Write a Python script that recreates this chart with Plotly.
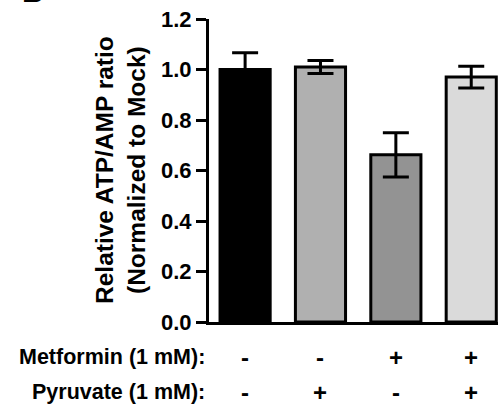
import plotly.graph_objects as go

# ---- data ----
groups = ["Mock", "Pyruvate", "Metformin", "Metformin + Pyruvate"]
ratio = [1.00, 1.01, 0.662, 0.970]
sem = [0.066, 0.026, 0.088, 0.043]
bar_colors = ["#000000", "#b0b0b0", "#939393", "#dadada"]
metformin = ["-", "-", "+", "+"]
pyruvate = ["-", "+", "-", "+"]
row_labels = ["Metformin (1 mM):", "Pyruvate (1 mM):"]
y_ticks = [0.0, 0.2, 0.4, 0.6, 0.8, 1.0, 1.2]

FONT = "Liberation Sans, Arial, Helvetica, sans-serif"
W, H = 498, 406
L, R, T, B = 209, 0, 19, 84
PW, PH = W - L - R, H - T - B

xpos = list(range(len(groups)))

fig = go.Figure()
fig.add_trace(go.Bar(
    x=xpos, y=ratio, width=0.665,
    marker=dict(color=bar_colors, line=dict(color="black", width=3)),
    error_y=dict(type="data", array=sem, visible=True, color="black",
                 thickness=3, width=13),
    hoverinfo="skip",
))

def px_to_paper_x(px):
    return (px - L) / PW

def px_to_paper_y(py):
    return (H - B - py) / PH

annotations = []
# y-axis title (two lines)
annotations.append(dict(
    text="<b>Relative ATP/AMP ratio<br>(Normalized to Mock)</b>",
    textangle=-90, xref="paper", yref="paper",
    x=px_to_paper_x(120), y=px_to_paper_y(170),
    xanchor="center", yanchor="middle", showarrow=False,
    font=dict(family=FONT, size=24.5, color="black"),
))
# treatment table
row_y = [357, 392]
for label, yy in zip(row_labels, row_y):
    annotations.append(dict(
        text=f"<b>{label}</b>", xref="paper", yref="paper",
        x=px_to_paper_x(207), y=px_to_paper_y(yy),
        xanchor="right", yanchor="middle", showarrow=False,
        font=dict(family=FONT, size=21.5, color="black"),
    ))
for signs, yy in zip([metformin, pyruvate], row_y):
    for xi, s in zip(xpos, signs):
        annotations.append(dict(
            text=f"<b>{s}</b>", xref="x", yref="paper",
            x=xi, y=px_to_paper_y(yy),
            xanchor="center", yanchor="middle", showarrow=False,
            font=dict(family=FONT, size=24, color="black"),
        ))
# panel letter (cropped at top edge, as in the reference)
annotations.append(dict(
    text="<b>B</b>", xref="paper", yref="paper",
    x=px_to_paper_x(20), y=px_to_paper_y(10),
    xanchor="left", yanchor="bottom", showarrow=False,
    font=dict(family=FONT, size=30, color="black"),
))

fig.update_layout(
    width=W, height=H,
    margin=dict(l=L, r=R, t=T, b=B, pad=0),
    plot_bgcolor="white", paper_bgcolor="white",
    showlegend=False,
    annotations=annotations,
    xaxis=dict(range=[-0.479, 3.355], showticklabels=False, ticks="",
               showgrid=False, zeroline=False, showline=True,
               linecolor="black", linewidth=3, fixedrange=True),
    yaxis=dict(range=[0, 1.2], tickvals=y_ticks, tickformat=".1f",
               ticks="outside", ticklen=10, tickwidth=3, tickcolor="black",
               showgrid=False, zeroline=False, showline=True,
               linecolor="black", linewidth=3, fixedrange=True,
               tickfont=dict(family=FONT, size=22, color="black", weight="bold")),
)

fig.write_html("out.html",
               config={"displayModeBar": False, "staticPlot": True},
               post_script="document.body.style.margin='0';document.body.style.overflow='hidden';")
